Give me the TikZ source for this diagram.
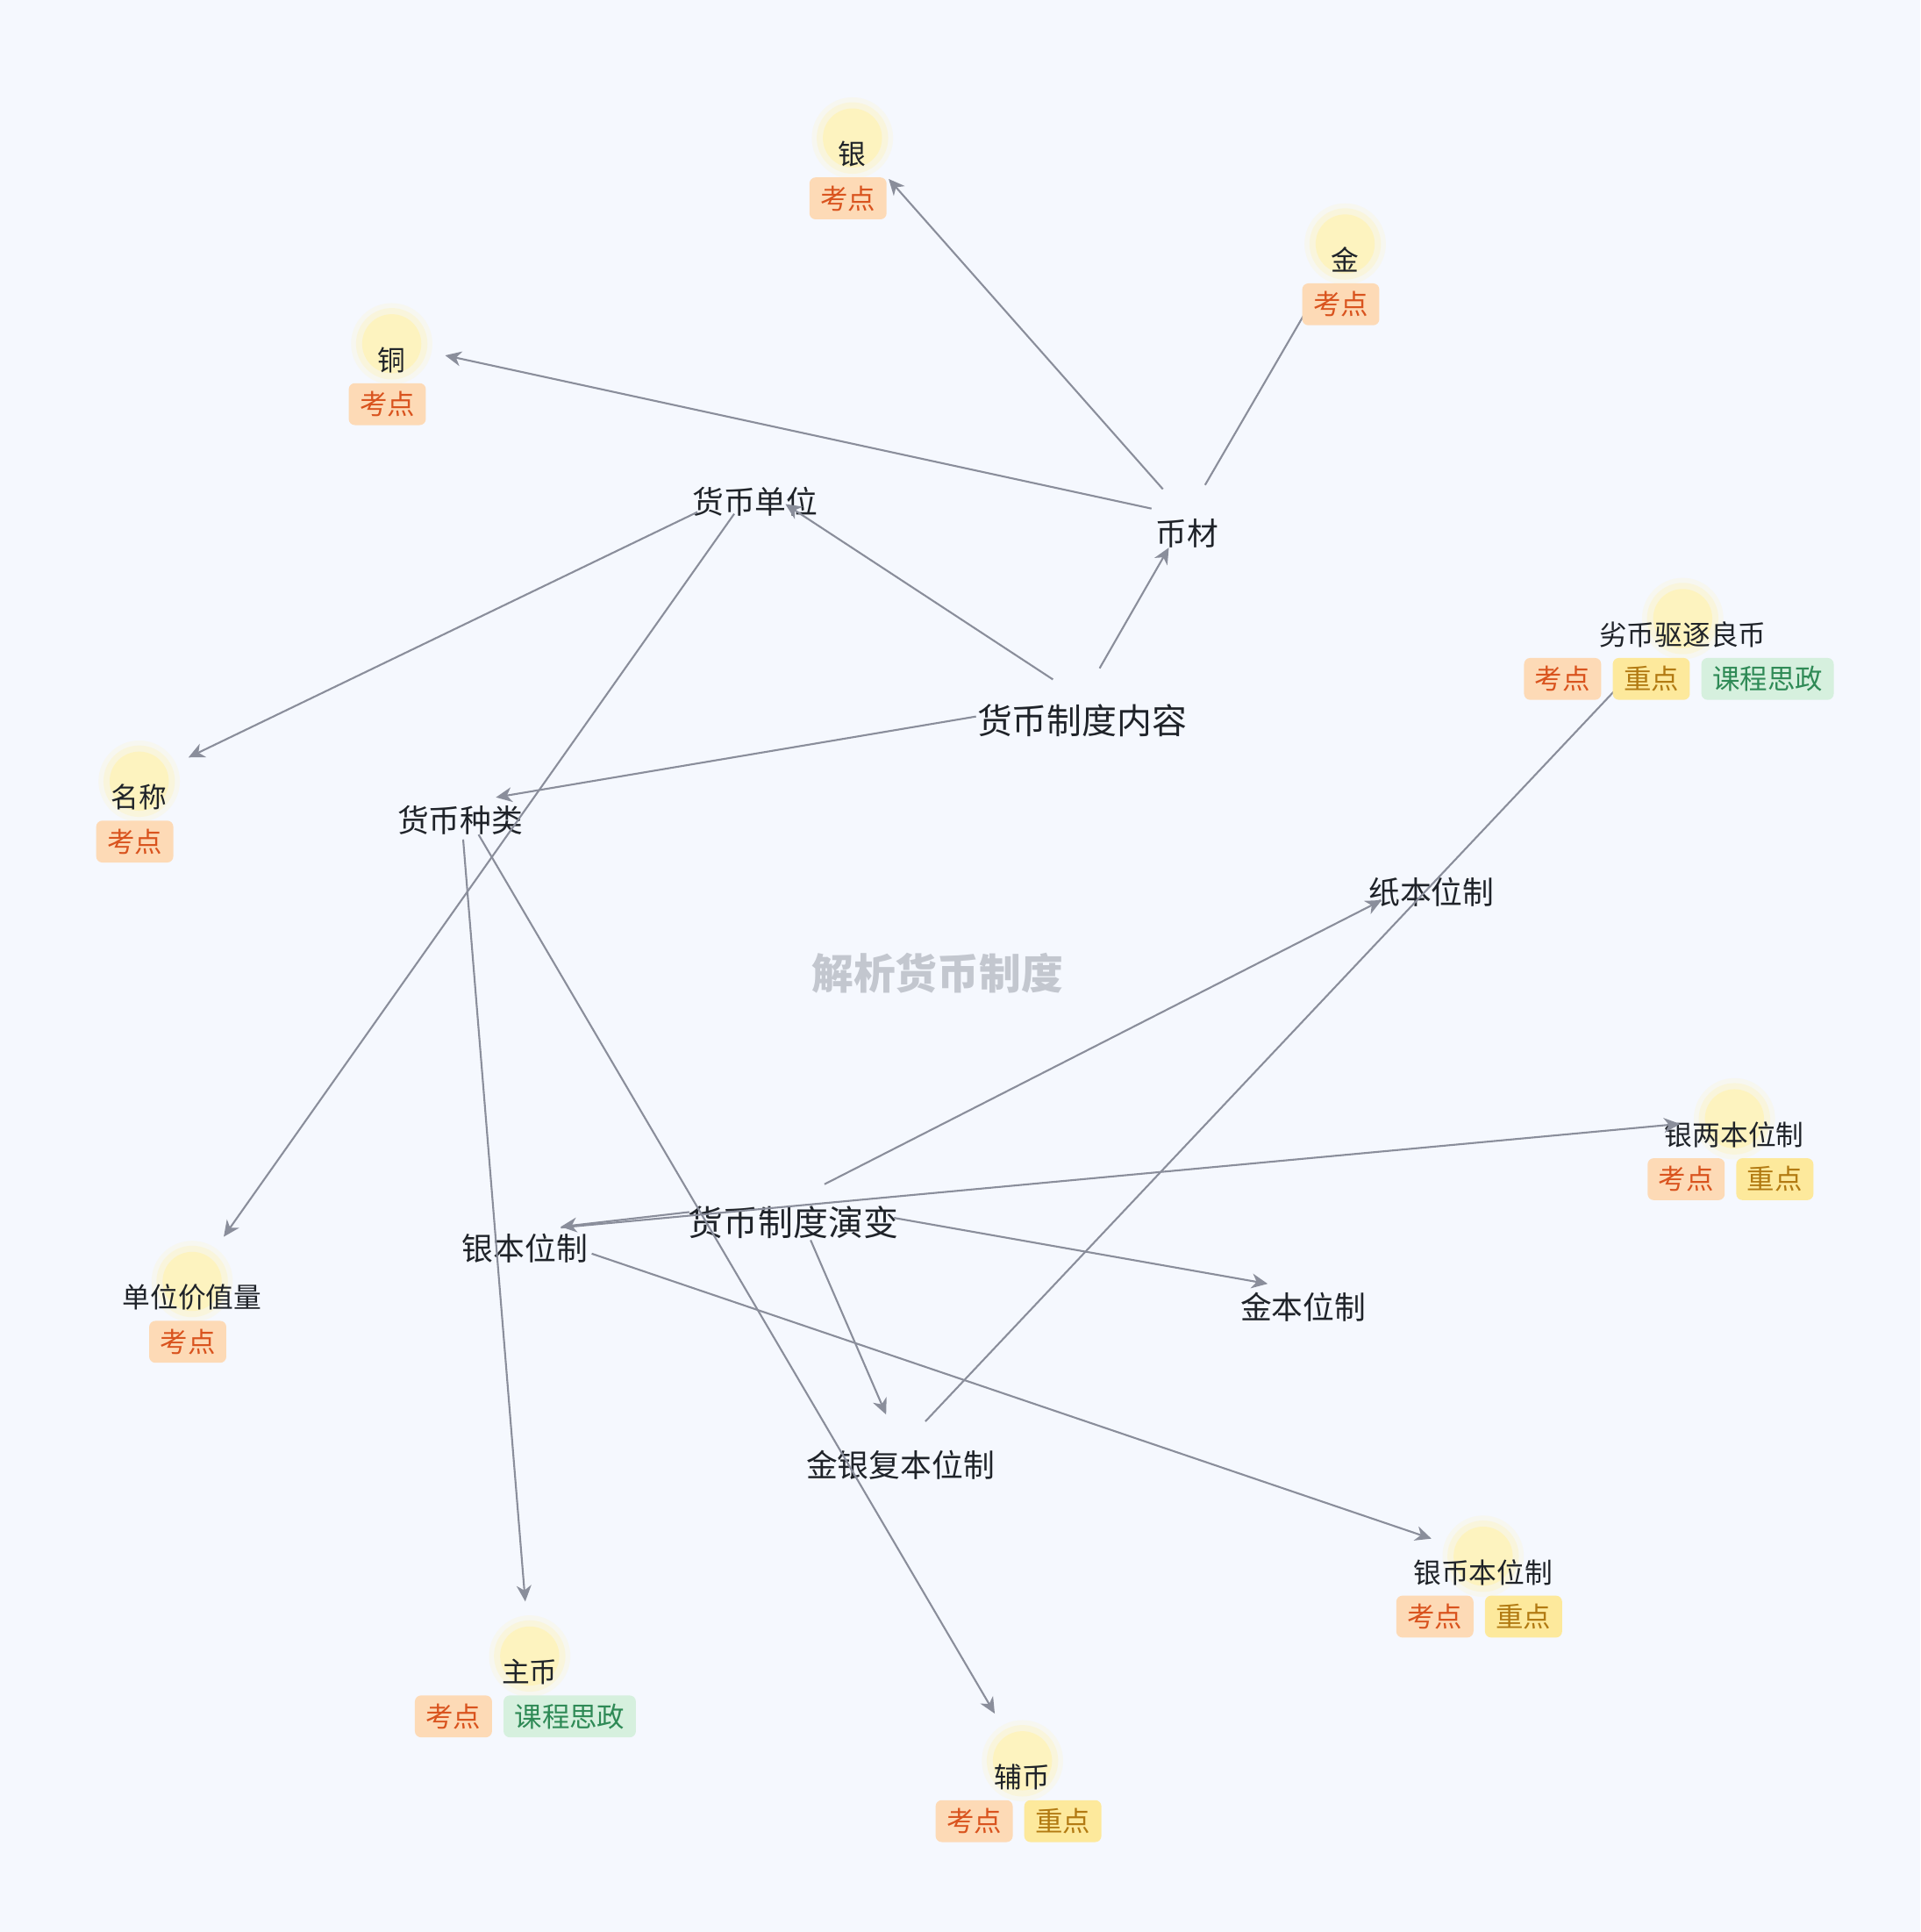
\documentclass[tikz,border=0pt]{standalone}
\usepackage{fontspec}
\setmainfont{Noto Sans CJK SC}
\usetikzlibrary{arrows.meta,positioning}
\definecolor{bgc}{HTML}{F5F8FE}
\definecolor{ink}{HTML}{1F2329}
\definecolor{linkc}{HTML}{8A8E9B}
\definecolor{glowc}{HTML}{FFF3B8}
\definecolor{titlec}{HTML}{C3C7CF}
\definecolor{kdfill}{HTML}{FDDAB6}\definecolor{kdtext}{HTML}{D9531E}
\definecolor{zdfill}{HTML}{FDE99C}\definecolor{zdtext}{HTML}{B27A12}
\definecolor{szfill}{HTML}{D6F0DE}\definecolor{sztext}{HTML}{2F8A56}
\begin{document}
\begin{tikzpicture}[x=.5pt,y=-.5pt,
 rootpt/.style={circle,inner sep=0pt,minimum size=28pt},
 midpt/.style={circle,inner sep=0pt,minimum size=29pt},
 leafpt/.style={circle,inner sep=0pt,minimum size=44pt},
 txtA/.style={inner sep=0pt,text=ink,font=\fontsize{14.2}{16}\selectfont},
 txtB/.style={inner sep=0pt,text=ink,font=\fontsize{12.75}{15}\selectfont},
 txtC/.style={inner sep=0pt,text=ink,font=\fontsize{11.3}{13}\selectfont},
 tagbox/.style={rounded corners=2.5pt,inner xsep=4.45pt,inner ysep=0pt,minimum height=17pt,font=\fontsize{11.2}{13}\selectfont},
 kd/.style={tagbox,fill=kdfill,text=kdtext},
 zd/.style={tagbox,fill=zdfill,text=zdtext},
 sz/.style={tagbox,fill=szfill,text=sztext},
 linkline/.style={draw=linkc,line width=.75pt,-{Stealth[length=6.5pt,width=6pt,inset=2pt]}}]
\fill[bgc] (0,0) rectangle (1559,1568);
\node[font=\bfseries\fontsize{17}{20}\selectfont,text=titlec] (title) at (761,790) {解析货币制度};
\foreach \n/\x/\y/\t in {neirong/878.5/567/货币制度内容,yanbian/644/974/货币制度演变}
 {\node[rootpt] (\n) at (\x,\y) {};\node[txtA] (\n-t) at ([yshift=-9pt]\n.center) {\t};}
\foreach \n/\x/\y/\t in {danwei/613/393/货币单位,bicai/963.5/419/币材,zhonglei/373.6/652/货币种类,zhiben/1162/710/纸本位制,
 yinben/426/999/银本位制,jinben/1058/1047/金本位制,fuben/731/1175/金银复本位制}
 {\node[midpt] (\n) at (\x,\y) {};\node[txtB] (\n-t) at ([yshift=-7pt]\n.center) {\t};}
\foreach \n/\x/\y/\t in {yin/692/112/银,jin/1092/198/金,tong/318/279/铜,mingcheng/113/634/名称,liebi/1366/502/劣币驱逐良币,
 yinliang/1408/908/银两本位制,jiazhi/156/1040/单位价值量,yinbi/1204/1263/银币本位制,zhubi/430/1344/主币,fubi/830/1429/辅币}
 {\fill[glowc,opacity=.2] (\x,\y) circle[radius=16.5pt];\fill[glowc,opacity=.35] (\x,\y) circle[radius=14.5pt];
  \fill[glowc,opacity=.8] (\x,\y) circle[radius=12pt];
  \node[leafpt] (\n) at (\x,\y) {};\node[txtC] (\n-t) at ([yshift=-6.5pt]\n.center) {\t};}
\foreach \a/\b/\s/\e in {neirong/danwei/0pt/0pt,neirong/bicai/0pt/0pt,neirong/zhonglei/29.5pt/0pt,bicai/yin/0pt/0pt,
 bicai/jin/0pt/0pt,bicai/tong/0pt/0pt,danwei/mingcheng/11.3pt/0pt,danwei/jiazhi/0pt/0pt,zhonglei/zhubi/0pt/0pt,
 zhonglei/fubi/0pt/0pt,yanbian/zhiben/0pt/8pt,yanbian/yinben/28.3pt/0pt,yanbian/jinben/27.3pt/0pt,yanbian/fuben/3.5pt/0pt,
 yinben/yinliang/0pt/0pt,yinben/yinbi/14pt/0pt,fuben/liebi/0pt/0pt}
 \draw[linkline,shorten <=\s,shorten >=\e] (\a) -- (\b);
\foreach \n in {yin,jin,tong,mingcheng,jiazhi}\node[kd] (\n-1) at ([xshift=-1.8pt,yshift=-18pt]\n-t.center) {考点};
\foreach \n in {yinliang,yinbi,fubi}
 {\node[kd] (\n-1) at ([xshift=-19.6pt,yshift=-18pt]\n-t.center) {考点};\node[zd,right=4.3pt of \n-1] (\n-2) {重点};}
\node[kd] (zhubi-1) at ([xshift=-30.95pt,yshift=-18pt]zhubi-t.center) {考点};\node[sz,right=4.3pt of zhubi-1] (zhubi-2) {课程思政};
\node[kd] (liebi-1) at ([xshift=-48.75pt,yshift=-18pt]liebi-t.center) {考点};\node[zd,right=4.3pt of liebi-1] (liebi-2) {重点};
\node[sz,right=4.3pt of liebi-2] (liebi-3) {课程思政};
\end{tikzpicture}
\end{document}
